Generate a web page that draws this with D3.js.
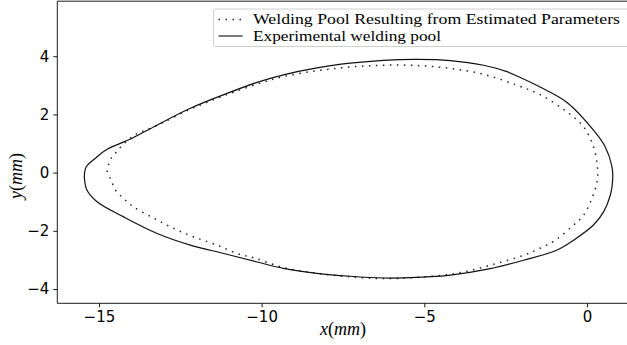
<!DOCTYPE html>
<html>
<head>
<meta charset="utf-8">
<script src="https://cdn.jsdelivr.net/npm/d3@7"></script>
<style>
  html, body { margin:0; padding:0; background:#fff; }
  svg { display:block; }
  .tick text { font-family:"DejaVu Sans", sans-serif; font-size:15px; fill:#000; }
  .lab { font-family:"Liberation Serif", "DejaVu Serif", serif; font-size:18px; }
  .leg { font-family:"Liberation Serif", "DejaVu Serif", serif; font-size:14.5px; }
</style>
</head>
<body>
<div id="chart"></div>
<script>
// 1) Data (mm), contours
// Experimental welding pool (solid) - upper edge left->right, then lower edge right->left
const expX = [-15.45,-15.39,-15.08,-14.75,-13.98,-13.22,-12.19,-11.16,-10.14,-9.33,-8.30,-7.28,-6.25,-5.23,-4.20,-3.18,-2.46,-2.15,-1.44,-0.62,0.20,0.56,0.77,0.79,
              0.72,0.51,0.20,-0.41,-0.92,-1.95,-2.97,-4.20,-5.23,-6.25,-7.28,-8.30,-9.33,-10.14,-11.16,-12.19,-13.21,-14.24,-15.06,-15.37,-15.45];
const expY = [-0.14,0.20,0.52,0.80,1.18,1.63,2.21,2.68,3.10,3.36,3.60,3.76,3.86,3.89,3.85,3.69,3.47,3.32,2.94,2.42,1.46,0.89,0.20,-0.26,
              -0.77,-1.35,-1.80,-2.32,-2.66,-3.01,-3.30,-3.52,-3.60,-3.62,-3.56,-3.46,-3.29,-3.07,-2.78,-2.49,-2.09,-1.52,-1.00,-0.60,-0.14];

// Welding pool from estimated parameters (dotted)
const estX = [-14.75,-14.66,-14.50,-14.35,-14.10,-13.86,-13.22,-12.19,-11.16,-10.14,-9.33,-8.30,-7.28,-6.25,-5.23,-4.20,-3.18,-2.15,-1.44,-0.62,-0.10,0.20,0.31,0.33,
              0.29,0.15,-0.10,-0.41,-0.97,-1.44,-1.95,-2.97,-4.00,-5.23,-6.25,-7.28,-8.30,-9.33,-10.24,-10.75,-11.37,-12.08,-12.70,-13.31,-13.93,-14.24,-14.49,-14.65,-14.75];
const estY = [0.02,0.43,0.66,0.86,1.12,1.32,1.62,2.18,2.64,3.04,3.30,3.50,3.63,3.69,3.68,3.58,3.38,3.00,2.68,2.09,1.57,0.89,0.32,-0.14,
              -0.43,-0.89,-1.46,-1.80,-2.32,-2.60,-2.84,-3.18,-3.46,-3.60,-3.64,-3.58,-3.46,-3.26,-2.93,-2.78,-2.49,-2.21,-1.92,-1.57,-1.18,-0.89,-0.60,-0.20,0.02];

const xTicks = [-15, -10, -5, 0];
const yTicks = [-4, -2, 0, 2, 4];
const legendLabels = ["Welding Pool Resulting from Estimated Parameters", "Experimental welding pool"];

// 2) Layout
const W = 627, H = 345;
const plot = {left:57.3, right:627.3, top:1.2, bottom:303.3};

const svg = d3.select('#chart').append('svg')
  .attr('width', W).attr('height', H);

const x = d3.scaleLinear().domain([-16.28, 1.24]).range([plot.left, plot.right]);
const y = d3.scaleLinear().domain([-4.49, 5.89]).range([plot.bottom, plot.top]);

// axes
const fmt = d => d < 0 ? "\u2212" + Math.abs(d) : String(d);
const xAxis = svg.append('g').attr('transform', `translate(0,${plot.bottom})`)
  .call(d3.axisBottom(x).tickValues(xTicks).tickFormat(fmt).tickSize(4).tickPadding(4));
const yAxis = svg.append('g').attr('transform', `translate(${plot.left},0)`)
  .call(d3.axisLeft(y).tickValues(yTicks).tickFormat(fmt).tickSize(4).tickPadding(4));
[xAxis, yAxis].forEach(g => {
  g.select('.domain').remove();
  g.selectAll('.tick line').attr('stroke', '#000').attr('stroke-width', 0.9);
});

// spines (right one falls outside the picture)
svg.append('path')
  .attr('d', `M${plot.right},${plot.top}H${plot.left}V${plot.bottom}H${plot.right}`)
  .attr('fill', 'none').attr('stroke', '#000').attr('stroke-width', 0.9);

// 3) Curves
const line = d3.line().x(d => x(d[0])).y(d => y(d[1])).curve(d3.curveCatmullRom.alpha(0.5));
const expPts = expX.map((v, i) => [v, expY[i]]);
const estPts = estX.map((v, i) => [v, estY[i]]);

svg.append('path').datum(estPts)
  .attr('d', line)
  .attr('fill', 'none').attr('stroke', '#222').attr('stroke-width', 1.5)
  .attr('stroke-dasharray', '1.5,5.5');

svg.append('path').datum(expPts)
  .attr('d', line)
  .attr('fill', 'none').attr('stroke', '#111').attr('stroke-width', 1.2);

// 4) Axis labels (math italic style)
const xl = svg.append('text').attr('class', 'lab')
  .attr('x', 343).attr('y', 335).attr('text-anchor', 'middle');
xl.append('tspan').attr('font-style', 'italic').text('x');
xl.append('tspan').text('(');
xl.append('tspan').attr('font-style', 'italic').text('mm');
xl.append('tspan').text(')');

const yl = svg.append('text').attr('class', 'lab')
  .attr('transform', 'translate(22,176) rotate(-90)').attr('text-anchor', 'middle');
yl.append('tspan').attr('font-style', 'italic').text('y');
yl.append('tspan').text('(');
yl.append('tspan').attr('font-style', 'italic').text('mm');
yl.append('tspan').text(')');

// 5) Legend
const leg = svg.append('g').attr('transform', 'translate(213.5,9)');
leg.append('rect')
  .attr('width', 420).attr('height', 37.5).attr('rx', 2)
  .attr('fill', '#fff').attr('fill-opacity', 0.85)
  .attr('stroke', '#d0d0d0').attr('stroke-width', 1);

const styles = [
  {dash:'1.5,5.5', w:1.5, len:367},
  {dash:null, w:1.2, len:188}
];
legendLabels.forEach((t, i) => {
  const cy = 10.5 + i * 16.5;
  leg.append('line')
    .attr('x1', 5).attr('x2', 29).attr('y1', cy).attr('y2', cy)
    .attr('stroke', '#222').attr('stroke-width', styles[i].w)
    .attr('stroke-dasharray', styles[i].dash);
  leg.append('text').attr('class', 'leg')
    .attr('x', 39.5).attr('y', cy + 4.5)
    .attr('textLength', styles[i].len).attr('lengthAdjust', 'spacingAndGlyphs')
    .text(t);
});
</script>
</body>
</html>
